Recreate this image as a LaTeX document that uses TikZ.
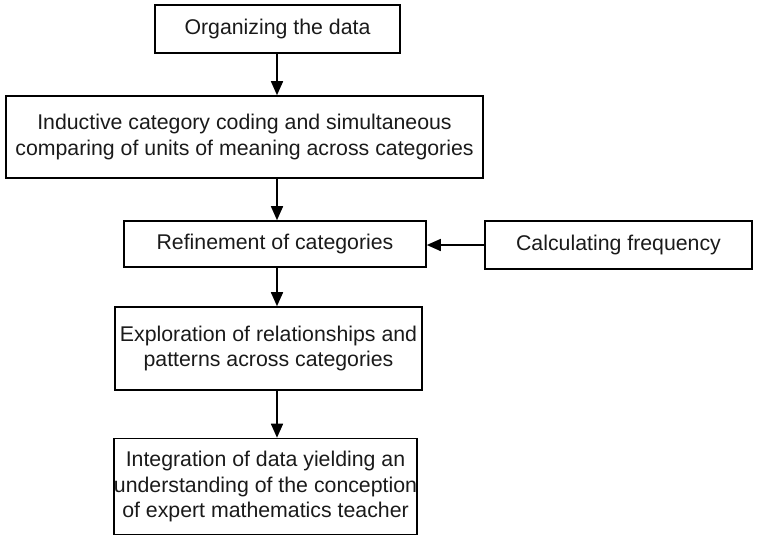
\documentclass[tikz,border=0pt]{standalone}
\usepackage{fontspec}
\setmainfont{Liberation Sans}
\usetikzlibrary{arrows.meta}
\definecolor{txt}{HTML}{1A1A1A}
\tikzset{
  stepbox/.style={draw=black, line width=1.6pt, rectangle, inner sep=0pt, align=center,
    text=txt, font=\fontsize{21.3}{25.6}\selectfont},
  arr/.style={line width=1.6pt, -{Triangle[width=12pt,length=14pt]}}
}
\begin{document}
\begin{tikzpicture}[x=1pt,y=-1pt]
\useasboundingbox (0,0) rectangle (757,536);
\node[stepbox, minimum width=245pt, minimum height=48pt] (b1) at (277.5,29) {Organizing the data};
\node[stepbox, minimum width=477pt, minimum height=82pt] (b2) at (244.5,137) {Inductive category coding and simultaneous\\comparing of units of meaning across categories};
\node[stepbox, minimum width=302pt, minimum height=46pt] (b3) at (275,244) {Refinement of categories};
\node[stepbox, minimum width=267pt, minimum height=48pt] (b4) at (618.5,245) {Calculating frequency};
\node[stepbox, minimum width=307pt, minimum height=83pt] (b5) at (268.5,348.5) {Exploration of relationships and\\patterns across categories};
\node[stepbox, minimum width=293pt, minimum height=96pt] (b6) at (265.5,486.5) {Integration of data yielding an\\understanding of the conception\\of expert mathematics teacher};
\coordinate (ax) at (277,0);
\draw[arr] (b1.south -| ax) -- (b2.north -| ax);
\draw[arr] (b2.south -| ax) -- (b3.north -| ax);
\draw[arr] (b3.south -| ax) -- (b5.north -| ax);
\draw[arr] (b5.south -| ax) -- (b6.north -| ax);
\draw[arr] (b4.west) -- (b3.east |- b4.west);
\end{tikzpicture}
\end{document}
